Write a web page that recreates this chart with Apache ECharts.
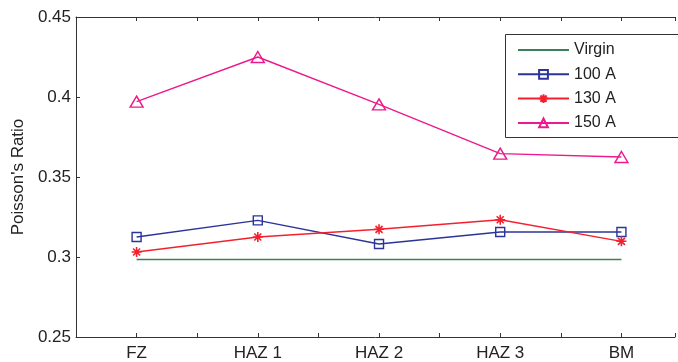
<!DOCTYPE html>
<html><head><meta charset="utf-8">
<script src="https://cdn.jsdelivr.net/npm/echarts@6/dist/echarts.min.js"></script>
<style>html,body{margin:0;padding:0;background:#fff}#c{width:678px;height:362px}</style>
</head><body><div id="c"></div>
<script>
const categories = ['FZ', 'HAZ 1', 'HAZ 2', 'HAZ 3', 'BM'];
const virgin = [0.2984, 0.2984, 0.2984, 0.2984, 0.2984];
const a100 = [0.3125, 0.3229, 0.3081, 0.3156, 0.3156];
const a130 = [0.3031, 0.3125, 0.3173, 0.3233, 0.3098];
const a150 = [0.3971, 0.4250, 0.3954, 0.3646, 0.3625];
const yTicks = [0.25, 0.3, 0.35, 0.4, 0.45];

const font = 'Liberation Sans, Arial, Helvetica, sans-serif';
const toXY = arr => arr.map((v, i) => [i + 1, v]);
const asterisk = 'path://M5,0L5,10M0,5L10,5M1.5,1.5L8.5,8.5M1.5,8.5L8.5,1.5';
const axisColor = '#333';

const chart = echarts.init(document.getElementById('c'));
chart.setOption({
  animation: false,
  grid: { left: 76, right: 0, top: 17, bottom: 25 },
  graphic: [{
    type: 'rect', left: 505, top: 34, z: 100,
    shape: { width: 220, height: 103 },
    style: { fill: '#fff', stroke: '#333', lineWidth: 1 }
  }],
  legend: {
    orient: 'vertical', left: 505, top: 34, z: 200,
    padding: [8, 10, 8, 12], itemGap: 8.3, itemWidth: 51, itemHeight: 11,
    borderWidth: 0,
    textStyle: { fontFamily: font, fontSize: 16, color: '#222' },
    data: [{ name: 'Virgin', itemStyle: { opacity: 0 } }, '100 A', '130 A', '150 A']
  },
  xAxis: [{
    type: 'value', min: 0.5, max: 5.442, interval: 0.5,
    axisLine: { lineStyle: { color: axisColor, width: 1 } },
    axisTick: { inside: true, length: 4, lineStyle: { color: axisColor } },
    splitLine: { show: false },
    axisLabel: {
      fontFamily: font, fontSize: 17, color: '#222', margin: 8,
      formatter: v => Number.isInteger(v) ? categories[v - 1] : '',
      showMinLabel: true, showMaxLabel: true
    }
  }, {
    type: 'value', position: 'top', min: 0.5, max: 5.442, interval: 0.5,
    axisLine: { show: true, lineStyle: { color: axisColor, width: 1 } },
    axisTick: { inside: true, length: 4, lineStyle: { color: axisColor } },
    axisLabel: { show: false }, splitLine: { show: false }
  }],
  yAxis: [{
    type: 'value', min: 0.25, max: 0.45, interval: 0.05,
    name: "Poisson's Ratio", nameLocation: 'middle', nameGap: 45,
    nameTextStyle: { fontFamily: font, fontSize: 17, color: '#222' },
    axisLine: { show: true, lineStyle: { color: axisColor, width: 1 } },
    axisTick: { show: true, inside: true, length: 4, lineStyle: { color: axisColor } },
    splitLine: { show: false },
    axisLabel: {
      fontFamily: font, fontSize: 17, color: '#222', margin: 5,
      formatter: v => { const t = yTicks.find(x => Math.abs(x - v) < 1e-9); return t === undefined ? '' : String(+t.toFixed(2)); }
    }
  }],
  series: [
    { name: 'Virgin', type: 'line', data: toXY(virgin), symbol: 'none',
      lineStyle: { color: '#3d7f5c', width: 1.4 }, itemStyle: { color: '#3d7f5c' } },
    { name: '100 A', type: 'line', data: toXY(a100), symbol: 'rect', symbolSize: 9,
      lineStyle: { color: '#2b3499', width: 1.4 },
      itemStyle: { color: 'rgba(255,255,255,0)', borderColor: '#2b3499', borderWidth: 1.4 } },
    { name: '130 A', type: 'line', data: toXY(a130), symbol: asterisk, symbolSize: 10,
      lineStyle: { color: '#f5202e', width: 1.4 },
      itemStyle: { color: 'rgba(255,255,255,0)', borderColor: '#f5202e', borderWidth: 1.6 } },
    { name: '150 A', type: 'line', data: toXY(a150), symbol: 'triangle', symbolSize: [13, 11],
      lineStyle: { color: '#ec1a8c', width: 1.4 },
      itemStyle: { color: 'rgba(255,255,255,0)', borderColor: '#ec1a8c', borderWidth: 1.4 } }
  ]
});
</script></body></html>
